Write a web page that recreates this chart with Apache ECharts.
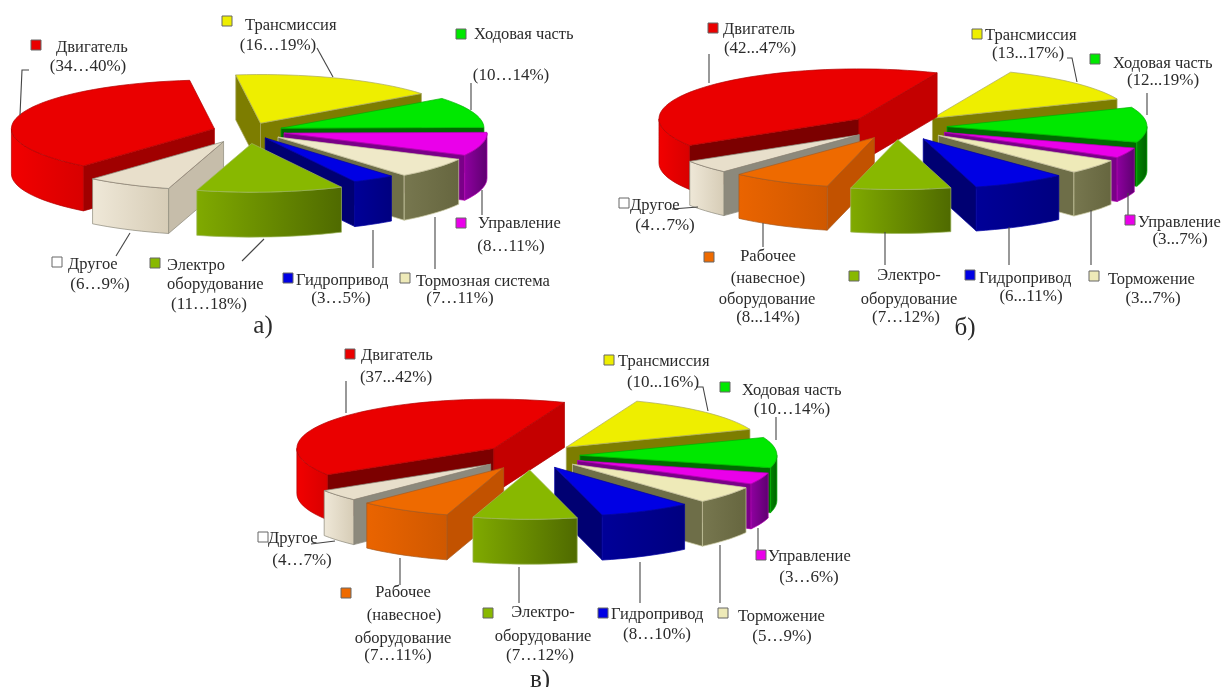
<!DOCTYPE html>
<html lang="ru">
<head>
<meta charset="utf-8">
<title>Распределение отказов по системам машины</title>
<style>
  html, body { margin: 0; padding: 0; background: #fff; }
  #chart { width: 1228px; height: 687px; }
</style>
<script src="https://cdn.jsdelivr.net/npm/echarts@6/dist/echarts.min.js"></script>
</head>
<body>
<div id="chart"></div>
<script>
// Slices of each pie, clockwise from the starting edge.
const partsA = ['trans', 'chassis', 'control', 'brake', 'hydro', 'electro', 'other', 'engine'];
const namesA = ['Трансмиссия', 'Ходовая часть', 'Управление', 'Тормозная система', 'Гидропривод', 'Электро\nоборудование', 'Другое', 'Двигатель'];
const rangesA = ['(16…19%)', '(10…14%)', '(8…11%)', '(7…11%)', '(3…5%)', '(11…18%)', '(6…9%)', '(34…40%)'];
const sharesA = [17, 10.5, 8, 7, 3.5, 12, 7, 38];

const partsB = ['trans', 'chassis', 'control', 'brake', 'hydro', 'electro', 'work', 'other', 'engine'];
const namesB = ['Трансмиссия', 'Ходовая часть', 'Управление', 'Торможение', 'Гидропривод', 'Электро-\nоборудование', 'Рабочее\n(навесное)\nоборудование', 'Другое', 'Двигатель'];
const rangesB = ['(13...17%)', '(12...19%)', '(3...7%)', '(3...7%)', '(6...11%)', '(7…12%)', '(8...14%)', '(4…7%)', '(42...47%)'];
const sharesB = [13, 12, 3.5, 5, 8, 8.5, 8.5, 4.5, 42.5];

const partsC = ['trans', 'chassis', 'control', 'brake', 'hydro', 'electro', 'work', 'other', 'engine'];
const namesC = ['Трансмиссия', 'Ходовая часть', 'Управление', 'Торможение', 'Гидропривод', 'Электро-\nоборудование', 'Рабочее\n(навесное)\nоборудование', 'Другое', 'Двигатель'];
const rangesC = ['(10...16%)', '(10…14%)', '(3…6%)', '(5…9%)', '(8…10%)', '(7…12%)', '(7…11%)', '(4…7%)', '(37...42%)'];
const sharesC = [14, 10.5, 4, 6, 8, 9, 8, 4, 42];

// Face colours of every machine system.
const palette = {
  engine:  { top: '#ea0000', wall: ['#f20000', '#d80000'], start: '#7c0000', end: '#c40000', edge: '#b00000' },
  trans:   { top: '#eeee00', wall: ['#8a8a00', '#777700'], start: '#7d7d00', end: '#7d7d00', edge: '#a8a860' },
  chassis: { top: '#00e800', wall: ['#008800', '#005f00'], start: '#006a00', end: '#006a00', edge: '#00b000' },
  control: { top: '#ea00ea', wall: ['#8f00a0', '#5e0070'], start: '#7a0088', end: '#7a0088', edge: '#b000b0' },
  brake:   { top: '#eeeab8', wall: ['#77774f', '#66663f'], start: '#6e6e48', end: '#6e6e48', edge: '#c8c8a0' },
  hydro:   { top: '#0000e4', wall: ['#000098', '#000080'], start: '#000072', end: '#000072', edge: '#0000a0' },
  electro: { top: '#88b800', wall: ['#80aa00', '#4f6a00'], start: '#5f7f00', end: '#5f7f00', edge: '#9fb860' },
  work:    { top: '#ee6a00', wall: ['#ea6400', '#cf5800'], start: '#c25200', end: '#c25200', edge: '#a85a20' },
  other:   { top: '#e8dfcb', wall: ['#efe8d8', '#d6ccb6'], start: '#8c897c', end: '#b8ae9c', edge: '#8a8678' }
};
// The first pie has lighter inner faces on two slices.
const lighterFaces = {
  engine: { start: '#a00000' },
  other: { start: '#c6bdaa' },
  brake: { top: '#efe9c8' }
};

// Projection settings of the three pies; explode is measured along each slice's bisector.
const pies = [
  { parts: partsA, names: namesA, ranges: rangesA, shares: sharesA, tint: lighterFaces,
    cx: 247, cy: 131, r: 203, k: 0.24, depth: 45, startAngle: -97,
    explode: [35, 36, 38, 40, 34, 52, 50, 34],
    caption: { text: 'а)', x: 263, y: 325 },
    labels: [
      { mark: [227, 21], name: [[245, 24, 'left']], range: [278, 44], leader: [[317, 48], [333, 77]] },
      { mark: [461, 34], name: [[474, 33, 'left']], range: [511, 74], leader: [[471, 83], [471, 110]] },
      { mark: [461, 223], name: [[478, 222, 'left']], range: [511, 245], leader: [[482, 190], [482, 215]] },
      { mark: [405, 278], name: [[416, 280, 'left']], range: [460, 297], leader: [[435, 217], [435, 269]] },
      { mark: [288, 278], name: [[296, 279, 'left']], range: [341, 297], leader: [[373, 230], [373, 268]] },
      { mark: [155, 263], name: [[167, 264, 'left'], [167, 283, 'left']], range: [209, 303], leader: [[264, 239], [242, 261]] },
      { mark: [57, 262], name: [[68, 263, 'left']], range: [100, 283], leader: [[130, 233], [116, 256]] },
      { mark: [36, 45], name: [[56, 46, 'left']], range: [88, 65], leader: [[20, 115], [22, 70], [29, 70]] }
    ] },
  { parts: partsB, names: namesB, ranges: rangesB, shares: sharesB,
    cx: 897, cy: 127, r: 200, k: 0.25, depth: 44, startAngle: -67,
    explode: [50, 50, 52, 53, 54, 50, 48, 49, 50],
    caption: { text: 'б)', x: 965, y: 327 },
    labels: [
      { mark: [977, 34], name: [[985, 34, 'left']], range: [1028, 52], leader: [[1067, 58], [1072, 58], [1077, 82]] },
      { mark: [1095, 59], name: [[1113, 62, 'left']], range: [1163, 79], leader: [[1147, 93], [1147, 115]] },
      { mark: [1130, 220], name: [[1138, 221, 'left']], range: [1180, 238], leader: [[1128, 193], [1128, 215]] },
      { mark: [1094, 276], name: [[1108, 278, 'left']], range: [1153, 297], leader: [[1091, 210], [1091, 265]] },
      { mark: [970, 275], name: [[979, 277, 'left']], range: [1031, 295], leader: [[1009, 227], [1009, 265]] },
      { mark: [854, 276], name: [[909, 274, 'center'], [909, 298, 'center']], range: [906, 316], leader: [[885, 232], [885, 265]] },
      { mark: [709, 257], name: [[768, 255, 'center'], [768, 277, 'center'], [767, 298, 'center']], range: [768, 316], leader: [[763, 223], [763, 247]] },
      { mark: [624, 203], name: [[630, 204, 'left']], range: [665, 224], leader: [[672, 209], [698, 207]] },
      { mark: [713, 28], name: [[723, 28, 'left']], range: [760, 47], leader: [[709, 54], [709, 83]] }
    ] },
  { parts: partsC, names: namesC, ranges: rangesC, shares: sharesC,
    cx: 531, cy: 456, r: 197, k: 0.25, depth: 45, startAngle: -69,
    explode: [50, 49, 50, 53, 51, 56, 54, 52, 48],
    caption: { text: 'в)', x: 540, y: 679 },
    labels: [
      { mark: [609, 360], name: [[618, 360, 'left']], range: [663, 381], leader: [[696, 387], [703, 387], [708, 411]] },
      { mark: [725, 387], name: [[742, 389, 'left']], range: [792, 408], leader: [[776, 417], [776, 440]] },
      { mark: [761, 555], name: [[768, 555, 'left']], range: [809, 576], leader: [[758, 528], [758, 550]] },
      { mark: [723, 613], name: [[738, 615, 'left']], range: [782, 635], leader: [[720, 545], [720, 603]] },
      { mark: [603, 613], name: [[611, 613, 'left']], range: [657, 633], leader: [[640, 562], [640, 603]] },
      { mark: [488, 613], name: [[543, 611, 'center'], [543, 635, 'center']], range: [540, 654], leader: [[519, 567], [519, 603]] },
      { mark: [346, 593], name: [[403, 591, 'center'], [404, 614, 'center'], [403, 637, 'center']], range: [398, 654], leader: [[400, 558], [400, 585]] },
      { mark: [263, 537], name: [[268, 537, 'left']], range: [302, 559], leader: [[311, 544], [335, 541]] },
      { mark: [350, 354], name: [[361, 354, 'left']], range: [396, 376], leader: [[346, 381], [346, 413]] }
    ] }
];

const FONT = '"Liberation Serif", "DejaVu Serif", serif';
const NAME_SIZE = 16.5;
const RANGE_SIZE = 17;
const CAPTION_SIZE = 25;
const TEXT_COLOR = '#2b2b2b';
const TEXT_NUDGE = 1.5;
const RAD = Math.PI / 180;

// Arc points of an ellipse rim between two angles, in degrees.
function rimPoints(ox, oy, pie, from, to) {
  const pts = [];
  const steps = Math.max(2, Math.ceil(Math.abs(to - from) / 3));
  for (let i = 0; i <= steps; i++) {
    const t = (from + (to - from) * i / steps) * RAD;
    pts.push([ox + pie.r * Math.cos(t), oy + pie.r * pie.k * Math.sin(t)]);
  }
  return pts;
}

function sliceAngles(pie) {
  const total = pie.shares.reduce((a, b) => a + b, 0);
  let acc = 0;
  return pie.shares.map((v) => {
    const a0 = pie.startAngle + acc / total * 360;
    acc += v;
    return { a0, a1: pie.startAngle + acc / total * 360 };
  });
}

function polygon(points, fill, stroke) {
  return {
    type: 'polygon',
    shape: { points },
    style: { fill, stroke, lineWidth: 0.7, lineJoin: 'round' }
  };
}

// Builds one extruded slice: radial faces, then the visible rim wall, then the top.
function renderSlice(pie, angles, params, api) {
  const i = api.value(0);
  const { a0, a1 } = angles[i];
  const part = pie.parts[i];
  const colors = Object.assign({}, palette[part], pie.tint && pie.tint[part]);
  const mid = (a0 + a1) / 2 * RAD;
  const e = pie.explode[i];
  const ox = pie.cx + e * Math.cos(mid);
  const oy = pie.cy + e * pie.k * Math.sin(mid);
  const d = pie.depth;
  const down = (p) => [p[0], p[1] + d];
  const rim = rimPoints(ox, oy, pie, a0, a1);
  const first = rim[0];
  const last = rim[rim.length - 1];
  const children = [];

  if (Math.cos(a0 * RAD) < 0) {
    children.push(polygon([[ox, oy], first, down(first), [ox, oy + d]], colors.start, colors.edge));
  }
  if (Math.cos(a1 * RAD) > 0) {
    children.push(polygon([[ox, oy], last, down(last), [ox, oy + d]], colors.end, colors.edge));
  }
  for (const base of [-360, 0, 360]) {
    const from = Math.max(a0, base);
    const to = Math.min(a1, base + 180);
    if (to > from) {
      const arc = rimPoints(ox, oy, pie, from, to);
      const wall = arc.concat(arc.map(down).reverse());
      const grad = new echarts.graphic.LinearGradient(0, 0, 1, 0, [
        { offset: 0, color: colors.wall[0] },
        { offset: 1, color: colors.wall[1] }
      ]);
      children.push(polygon(wall, grad, colors.edge));
    }
  }
  children.push(polygon([[ox, oy]].concat(rim), colors.top, colors.edge));
  return { type: 'group', children };
}

// Far slices are painted first so that near ones overlap them.
function paintOrder(angles) {
  return angles
    .map((a, i) => ({ i, s: Math.sin((a.a0 + a.a1) / 2 * RAD) }))
    .sort((p, q) => p.s - q.s)
    .map((p) => [p.i]);
}

function textItem(text, x, y, align, size) {
  return {
    type: 'text', z: 20, silent: true,
    style: {
      text, x, y: y + TEXT_NUDGE, fill: TEXT_COLOR,
      font: size + 'px ' + FONT,
      textAlign: align, textVerticalAlign: 'middle'
    }
  };
}

function annotations(pie) {
  const items = [];
  pie.labels.forEach((lab, i) => {
    const colors = palette[pie.parts[i]];
    items.push({
      type: 'rect', z: 20, silent: true,
      shape: { x: lab.mark[0] - 5, y: lab.mark[1] - 5, width: 10, height: 10 },
      style: { fill: pie.parts[i] === 'other' ? '#fff' : colors.top, stroke: '#666', lineWidth: 1 }
    });
    pie.names[i].split('\n').forEach((line, n) => {
      const [x, y, align] = lab.name[n];
      items.push(textItem(line, x, y, align, NAME_SIZE));
    });
    items.push(textItem(pie.ranges[i], lab.range[0], lab.range[1], 'center', RANGE_SIZE));
    items.push({
      type: 'polyline', z: 19, silent: true,
      shape: { points: lab.leader },
      style: { fill: 'none', stroke: '#444', lineWidth: 1.1 }
    });
  });
  items.push(textItem(pie.caption.text, pie.caption.x, pie.caption.y, 'center', CAPTION_SIZE));
  return items;
}

const chart = echarts.init(document.getElementById('chart'), null, { renderer: 'canvas' });
chart.setOption({
  backgroundColor: '#ffffff',
  animation: false,
  series: pies.map((pie) => {
    const angles = sliceAngles(pie);
    return {
      type: 'custom',
      coordinateSystem: 'none',
      silent: true,
      data: paintOrder(angles),
      renderItem: (params, api) => renderSlice(pie, angles, params, api)
    };
  }),
  graphic: { elements: pies.flatMap(annotations) }
});
</script>
</body>
</html>
